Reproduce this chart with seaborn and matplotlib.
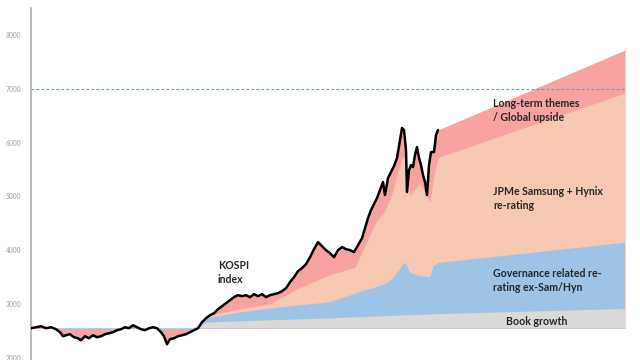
import numpy as np
import matplotlib
matplotlib.use("Agg")
import matplotlib.pyplot as plt
import seaborn as sns

# KOSPI history (time index, index level)
hist_t = [0, 5, 10, 15, 20, 25, 29, 32, 35, 39, 43, 47, 50, 54, 58, 62, 66, 70, 74, 78,
          82, 86, 90, 94, 98, 102, 106, 110, 114, 118, 122, 126, 130, 133, 136, 139, 143, 147, 151, 155,
          159, 163, 167, 171, 175, 179, 183, 187, 191, 195, 199, 203, 207, 211, 215, 219, 223, 227, 231, 235,
          239, 243, 247, 251, 255, 259, 263, 267, 271, 275, 279, 283, 287, 291, 295, 299, 303, 307, 311, 315,
          319, 323, 327, 331, 334, 337, 340, 343, 346, 349, 352, 354, 357, 360, 363, 366, 369, 371, 373, 375,
          376, 378, 380, 382, 384, 386, 388, 390, 392, 394, 396, 398, 400, 403, 405, 407]
kospi = [2553, 2572, 2590, 2553, 2572, 2535, 2479, 2404, 2423, 2442, 2386, 2367, 2330, 2404, 2367, 2423, 2386, 2404, 2442, 2460,
         2479, 2516, 2535, 2572, 2553, 2609, 2572, 2535, 2516, 2553, 2572, 2553, 2479, 2404, 2256, 2349, 2367, 2404, 2423, 2442,
         2479, 2516, 2553, 2665, 2739, 2795, 2832, 2906, 2962, 3018, 3074, 3130, 3167, 3148, 3167, 3130, 3186, 3148, 3186, 3130,
         3167, 3186, 3204, 3241, 3297, 3408, 3501, 3613, 3669, 3743, 3873, 4022, 4152, 4078, 4003, 3947, 3873, 4003, 4059, 4022,
         4003, 3966, 4096, 4226, 4412, 4598, 4747, 4858, 4970, 5119, 5267, 5026, 5342, 5453, 5565, 5713, 6048, 6271, 6234, 5862,
         5081, 5490, 5583, 5546, 5769, 5918, 5713, 5583, 5397, 5267, 5026, 5583, 5825, 5825, 6141, 6234]

# decomposition layers (value added above the base level)
comp_t = [0, 25, 29, 93, 100, 121, 125, 166, 173, 182, 209, 239, 266, 299, 324, 344, 354, 361, 371, 374,
          379, 389, 399, 402, 407, 594]
book = [0, 0, 0, 0, 0, 0, 0, 0, 110, 125, 140, 160, 175, 195, 215, 230, 235, 240, 250, 250,
        255, 260, 268, 270, 275, 370]
gov = [0, 0, -18, -18, -18, -18, -18, -18, 60, 90, 165, 220, 260, 300, 440, 540, 600, 680, 930, 980,
       780, 720, 690, 890, 950, 1230]
jpm = [0, 0, 0, 0, 0, 0, 0, 0, 20, 40, 60, 75, 300, 500, 480, 1170, 1350, 1580, 1990, 1990,
       1430, 1730, 1375, 1600, 1950, 2770]

base = 2550
proj_end_t = 594
proj_end_total = 7720
target = 7000
yticks = [2000, 3000, 4000, 5000, 6000, 7000, 8000]

c_theme = "#f8a2a2"
c_jpm = "#f6c7b1"
c_gov = "#9dc4e7"
c_book = "#d9d9d9"

sns.set_theme(style="white")
plt.rcParams["font.family"] = ["Lato", "DejaVu Sans"]

fig = plt.figure(figsize=(6.4, 3.6), dpi=100)
ax = fig.add_axes([31 / 640, 0, 594 / 640, 352 / 360])

ct = np.array(comp_t)
book_top = base + np.array(book)
gov_top = book_top + np.array(gov)
jpm_top = gov_top + np.array(jpm)

# pink = everything up to KOSPI (history) and the upside fan (projection)
all_t = hist_t + [proj_end_t]
all_top = kospi + [proj_end_total]
pink = ax.fill_between(all_t, base, all_top, color=c_theme, lw=0, zorder=1)
clip = pink.get_paths()[0]

for top, col, z in [(jpm_top, c_jpm, 2), (gov_top, c_gov, 3), (book_top, c_book, 4)]:
    layer = ax.fill_between(ct, base, top, color=col, lw=0, zorder=z)
    layer.set_clip_path(clip, pink.get_transform())

sns.lineplot(x=hist_t, y=kospi, color="black", lw=1.8, ax=ax, zorder=6)
ax.axhline(target, color="#6b9fb0", lw=0.8, ls=(0, (2.5, 2)), zorder=5)

tx = dict(fontsize=7.6, fontweight="bold", color="#262626", linespacing=1.35, zorder=7)
ax.text(462, 6590, "Long-term themes\n/ Global upside", va="center", ha="left", **tx)
ax.text(462, 4970, "JPMe Samsung + Hynix\nre-rating", va="center", ha="left", **tx)
ax.text(462, 3446, "Governance related re-\nrating ex-Sam/Hyn", va="center", ha="left", **tx)
ax.text(506, 2683, "Book growth", va="center", ha="center", **tx)
ax.text(187, 3594, "KOSPI\nindex", va="center", ha="left", **tx)

ax.set_xlim(0, 594)
ax.set_ylim(1963, 8500)
ax.set_yticks(yticks)
ax.set_yticklabels([str(v) for v in yticks])
ax.set_xticks([])
ax.tick_params(axis="y", length=0, pad=7, labelsize=4.8, labelcolor="#a0a0a0")
for s in ["top", "right", "bottom"]:
    ax.spines[s].set_visible(False)
ax.spines["left"].set_color("#a6a6a6")
ax.spines["left"].set_linewidth(1.1)
ax.set_xlabel("")
ax.set_ylabel("")

fig.savefig("out.png", dpi=100)
